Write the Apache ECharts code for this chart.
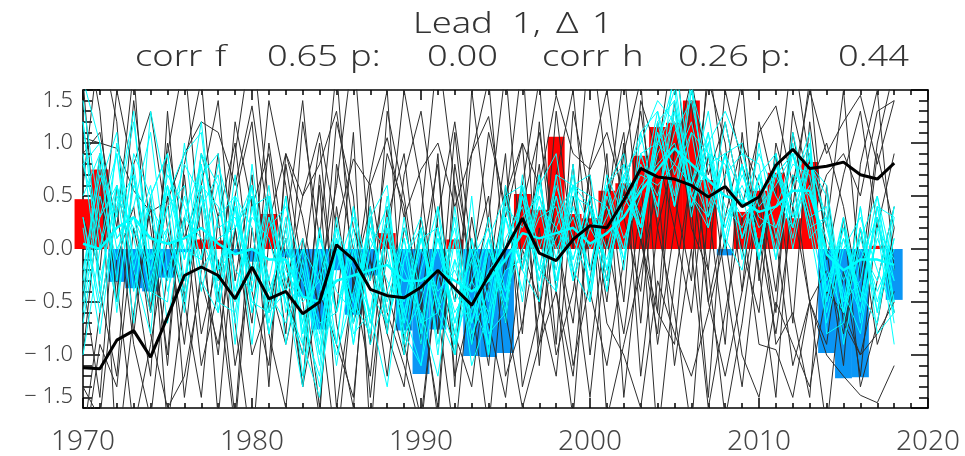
<!DOCTYPE html>
<html lang="en">
<head>
    <meta charset="UTF-8">
    <title>Lead 1</title>
    <script src="https://cdn.jsdelivr.net/npm/echarts@6/dist/echarts.min.js"></script>
    <style>
        html, body { margin: 0; padding: 0; background: #fff; }
        #main { width: 965px; height: 456px; }
    </style>
</head>
<body>
<div id="main"></div>
<script>
    // years 1970..2018
    var years = [1970, 1971, 1972, 1973, 1974, 1975, 1976, 1977, 1978, 1979,
        1980, 1981, 1982, 1983, 1984, 1985, 1986, 1987, 1988, 1989,
        1990, 1991, 1992, 1993, 1994, 1995, 1996, 1997, 1998, 1999,
        2000, 2001, 2002, 2003, 2004, 2005, 2006, 2007, 2008, 2009,
        2010, 2011, 2012, 2013, 2014, 2015, 2016, 2017, 2018];

    // red / blue bars
    var barValues = [0.47, 0.75, -0.31, -0.37, -0.40, -0.27, -0.03, 0.09, 0.08, -0.04,
        -0.12, 0.33, -0.08, -0.45, -0.76, -0.20, -0.62, -0.25, 0.15, -0.77,
        -1.18, -0.76, 0.09, -1.01, -1.02, -0.98, 0.52, 0.37, 1.06, 0.33,
        0.29, 0.55, 0.62, 0.88, 1.15, 1.19, 1.40, 0.65, -0.06, 0.35,
        0.55, 0.72, 0.29, 0.82, -0.98, -1.22, -1.21, 0.03, -0.48];

    // thick black line
    var obsLine = [-1.12, -1.13, -0.86, -0.77, -1.02, -0.64, -0.25, -0.17, -0.25, -0.47,
        -0.17, -0.47, -0.40, -0.61, -0.50, 0.04, -0.10, -0.38, -0.44, -0.46,
        -0.36, -0.20, -0.37, -0.53, -0.25, 0.0, 0.29, -0.04, -0.11, 0.09,
        0.22, 0.20, 0.46, 0.76, 0.68, 0.66, 0.60, 0.49, 0.59, 0.40,
        0.49, 0.79, 0.94, 0.76, 0.78, 0.82, 0.70, 0.66, 0.81];

    // thick cyan line
    var cyanMean = [0.05, 0.0, 0.2, 0.3, 0.1, 0.05, 0.1, 0.2, 0.05, -0.05,
        0.0, -0.1, -0.1, -0.45, -0.5, -0.3, -0.25, -0.2, -0.15, -0.3,
        -0.3, -0.2, -0.3, -0.4, -0.3, -0.1, 0.15, 0.1, 0.15, 0.2,
        0.05, 0.15, 0.3, 0.55, 0.75, 0.95, 0.8, 0.65, 0.5, 0.45,
        0.35, 0.4, 0.55, 0.55, -0.05, -0.2, -0.1, -0.1, -0.15];

    // thin black members
    var black1 = [1.05, 1.0, 0.95, 0.55, 0.35, 0.45, 0.9, 1.2, 1.1, 0.6,  1.35, 0.25, 0.9, 0.5, 1.1, 0.2, 0.85, 0.6, 1.05, 0.3,  0.75, 1.0, 0.4, 0.9, 1.25, 0.3, 1.0, 0.6, 1.45, 0.9,  0.75, 1.1, 0.5, 1.3, 0.2, 0.9, 1.6, 0.7, 1.2, 0.4,  1.1, 1.35, 0.6, 1.5, 0.9, 1.2, 1.45, 0.8, 1.4];
    var black2 = [-1.8, -0.6, 0.4, -0.9, -1.6, -0.2, 0.3, -1.1, -0.4, -1.7,  0.2, -0.8, -1.5, 0.1, -0.6, -1.9, -0.3, -1.2, 0.4, -0.9,  -1.6, -0.2, -1.0, 0.3, -0.7, -1.4, 0.0, -0.5, -1.2, 0.5,  -0.4, -1.1, -0.1, 0.6, -0.9, 0.2, -0.6, 0.9, -0.3, -1.3,  0.1, -0.8, 0.4, -0.5, -1.7, -0.2, -1.2, 0.3, -0.6];
    var black3 = [2.2, 1.3, -0.5, 1.4, 0.2, -1.0, 0.8, 1.6, -0.3, 0.9,  2.0, 0.4, -0.8, 1.2, 0.1, 1.7, -0.4, 0.7, 1.5, -0.9,  0.3, 1.9, 0.6, -0.2, 1.1, 0.4, 1.8, -0.6, 1.3, 0.0,  2.1, 0.7, -0.5, 1.4, 0.9, 2.0, 0.3, 1.6, 1.0, -0.4,  1.2, 0.5, 1.9, 0.8, 0.2, 1.5, -0.3, 1.0, 1.7];
    var black4 = [-0.3, -1.4, 0.6, -0.2, -1.2, 1.3, -0.5, 0.4, -1.6, 0.2,  -0.7, 1.0, -0.1, -1.3, 0.7, -0.6, 1.1, -1.8, 0.3, 0.9,  -0.5, -1.5, 0.8, -0.2, -1.1, 0.6, -0.8, 1.2, -0.4, -1.6,  0.5, -0.3, 1.0, -1.2, 0.2, -0.6, -1.7, 0.4, -0.9, 1.1,  -0.2, -1.4, 0.7, -0.5, -0.9, 0.3, -1.3, -0.7, 0.2];
    var black5 = [0.6, 2.0, 1.2, -0.8, 0.5, -1.7, -0.4, 0.9, 0.3, -1.1,  -0.2, 1.4, 0.6, -0.5, -1.6, 0.8, 0.0, -0.9, 1.3, 0.5,  -0.6, 0.9, -1.3, 1.5, 0.2, -0.7, 0.6, 1.6, -0.4, 0.8,  -1.0, 0.3, 1.7, 0.1, -0.8, 1.0, 0.4, -1.4, 0.7, 1.6,  -0.3, 0.9, -0.7, 1.2, 0.0, -1.1, 0.8, 1.5, -0.2];
    var black6 = [-2.0, -0.9, -1.3, 0.2, -0.6, 0.5, -1.4, -0.2, 0.9, -0.7,  -1.9, 0.1, -0.4, -1.0, 0.6, -1.5, -0.3, 0.4, -0.8, -1.3,  0.3, -0.6, -1.8, -0.1, 0.5, -1.2, -0.7, 0.2, -1.0, -0.4,  0.7, -1.6, -0.9, -0.2, 0.6, -1.1, 0.0, -1.5, -0.6, 0.3,  -0.9, -0.95, -1.4, -0.5, -1.0, -1.2, -1.38, -1.45, -1.1];
    var black7 = [0.3, -0.2, 1.5, 0.7, -0.4, 0.9, 1.8, 0.0, -1.0, 0.5,  1.2, -0.6, 0.2, 1.4, -0.3, 0.6, 1.9, -0.1, -0.8, 0.7,  1.3, 0.2, -0.5, 0.9, 1.6, -0.2, 0.4, 1.1, 0.1, -0.7,  0.8, 1.5, 0.3, -0.4, 1.2, 0.5, -0.3, 1.8, 0.6, 0.0,  -0.6, 1.0, 0.4, 1.6, -0.1, 0.7, 1.3, 0.2, 0.9];
    var black8 = [-1.0, 0.5, -0.3, -1.7, -0.9, 0.1, -0.5, -1.4, 0.3, 1.0,  -0.4, -1.1, 0.8, -0.2, -1.5, 0.4, -0.7, -0.1, -1.2, 0.2,  -0.4, -1.6, 0.6, -0.9, -0.3, 0.9, -1.3, -0.6, 0.5, -0.2,  -1.4, 0.1, -0.8, 0.4, -1.8, -0.3, 0.7, -0.5, -1.2, -0.4,  0.5, -0.9, -0.6, -1.4, 0.6, -0.7, -1.0, -0.3, 0.4];
    var black9 = [1.6, -0.4, -1.2, 0.8, 1.3, 0.2, -0.9, 0.6, 1.4, -0.3,  0.7, -1.3, 0.9, 0.3, -0.6, 1.2, 0.5, -1.4, 0.0, 1.5,  0.6, -0.8, 1.1, -0.4, 0.3, 1.7, -0.2, 0.8, -0.9, 1.3,  0.5, -0.5, 0.9, 1.6, -0.6, 1.4, 0.2, -0.2, 1.5, 0.8,  0.3, -0.6, 1.3, 0.6, 1.0, 0.4, -0.5, 0.9, 0.2];
    var black10 = [-0.5, 0.9, -2.0, -0.6, 0.4, -1.1, 0.7, -0.8, -0.1, -1.6,  0.5, -0.3, -0.9, -0.2, 1.0, -0.7, -1.5, 0.6, -0.4, -1.0,  -0.1, 0.8, -1.2, -0.5, -1.7, 0.0, 0.6, -0.9, 0.2, -1.1,  -0.3, 0.9, -1.4, 0.1, -0.6, -0.9, 0.8, -0.2, -1.6, -0.7,  0.5, 0.1, -1.1, -0.5, -0.2, -0.8, 0.2, -0.9, -0.4];
    var black11 = [0.9, 1.1, 0.2, 1.7, -0.6, 1.0, 0.1, 0.6, -0.5, 1.2,  0.4, 0.9, -0.4, 0.5, 0.8, 1.3, 0.2, -0.3, 0.9, 0.4,  -0.9, 0.3, 1.2, 0.0, -0.4, 0.5, 1.0, -1.1, 0.7, 1.5,  -0.2, 0.4, 1.1, -0.7, 0.9, 0.2, 1.4, -0.5, 0.3, 1.0,  0.6, -0.4, 1.1, 0.2, 0.7, 0.9, 0.5, 1.3, 1.4];
    var black12 = [-1.3, -1.6, -0.1, 0.4, -0.8, -1.5, -1.2, -0.3, -0.9, 0.2,  -1.0, -0.5, 0.1, -1.3, -0.4, -0.9, -1.4, 0.3, -0.6, -1.1,  -1.7, -0.2, -0.8, -1.3, 0.0, -0.6, -1.5, -0.9, -0.4, -1.2,  0.4, -0.7, -1.0, -1.5, -0.3, -0.8, -1.2, -0.6, 0.1, -1.0,  -1.4, -0.5, -0.9, -1.3, -0.4, -0.6, -1.0, -0.8, -0.5];

    // thin cyan members
    var cyan1 = [1.4, 0.3, 0.6, -0.2, 0.5, 0.9, -0.3, 0.4, 0.7, -0.4,  0.3, 0.1, -0.5, -0.9, 0.0, -0.6, 0.2, -0.7, -0.1, -0.5,  0.2, -0.6, -0.1, -0.9, 0.0, -0.4, 0.5, -0.2, 0.6, 0.1,  -0.3, 0.5, 0.0, 0.9, 0.4, 1.4, 0.6, 1.1, 0.2, 0.8,  0.0, 0.7, 0.9, 0.3, 0.4, -0.6, 0.2, -0.5, 0.1];
    var cyan2 = [-0.6, 0.5, -0.1, 0.8, -0.3, 0.4, 0.6, -0.4, 0.3, 0.5,  -0.6, 0.2, 0.4, -0.2, -1.0, 0.1, -0.7, 0.3, -0.6, 0.1,  -0.8, 0.2, -0.7, 0.0, -1.0, 0.3, -0.2, 0.7, -0.3, 0.5,  0.4, -0.2, 0.8, 0.2, 1.2, 0.5, 1.6, 0.3, 0.9, 0.1,  0.7, 0.2, 0.6, 1.0, -0.5, 0.2, -0.6, 0.4, -0.3];
    var cyan3 = [0.3, -0.5, 1.0, 0.1, 0.6, -0.4, 0.2, 1.2, -0.2, 0.0,  0.6, -0.5, 0.3, -0.8, -0.2, -0.9, 0.4, -0.3, 0.3, -1.0,  -0.2, 0.4, -0.5, -0.1, 0.2, -0.7, 0.6, 0.0, 0.5, -0.2,  0.4, 0.0, 0.6, 1.1, 0.3, 1.8, 0.7, 0.3, 1.2, 0.4,  0.9, 0.5, 0.2, 0.8, 0.3, -0.9, -0.1, 0.3, -0.7];
    var cyan4 = [-0.2, 0.7, 0.3, 1.2, -0.1, 0.2, 0.8, 0.5, -0.6, 0.4,  -0.3, 0.6, -0.6, 0.0, -0.8, 0.1, -0.9, 0.0, 0.4, -0.6,  -1.1, -0.3, 0.2, -0.8, -0.4, 0.4, 0.2, 0.6, -0.1, 0.7,  -0.4, 0.6, 0.1, 0.5, 1.3, 0.7, 1.1, 0.9, 0.4, 0.2,  0.6, 0.0, 1.1, 0.4, -0.3, 0.1, -0.4, -0.7, 0.3];
    var cyan5 = [0.8, 0.2, -0.5, 0.6, 0.3, -0.3, 0.5, -0.1, 0.6, -0.7,  0.4, -0.4, 0.1, -1.2, -0.4, 0.0, -0.5, -0.8, 0.1, -0.2,  -0.6, -1.2, -0.1, -0.5, -0.9, 0.1, 0.4, -0.3, 0.3, 0.6,  0.2, -0.1, 0.5, 0.2, 0.9, 1.2, 0.4, 0.8, 0.9, 0.5,  -0.1, 0.8, 0.4, 0.9, 0.2, -0.4, -0.8, 0.2, -0.1];
    var cyan6 = [-1.0, 0.0, 0.9, -0.1, 0.4, 0.1, -0.4, 0.9, 0.2, 0.3,  -0.2, 0.5, -0.3, -0.6, -1.3, -0.2, 0.3, -0.4, -0.7, -0.1,  0.3, -0.5, -0.9, -0.3, 0.1, -0.5, 0.3, 0.5, 0.0, 0.3,  -0.2, 0.7, 0.3, 0.6, 0.8, 1.0, 0.5, 0.3, 0.7, 0.9,  0.4, 0.6, 0.9, 0.2, -0.7, 0.0, 0.3, -0.2, -0.6];
    var cyan7 = [0.5, 0.9, 0.1, 0.4, 1.1, -0.2, 0.3, 0.1, -0.3, 0.5,  0.2, -0.8, 0.0, -0.3, -0.7, -0.6, 0.1, -0.9, -0.4, 0.2,  -0.4, 0.0, -0.6, -0.3, -0.6, -0.2, -0.1, 0.3, 0.4, -0.3,  0.2, 0.4, -0.1, 0.8, 0.5, 1.1, 1.4, 0.6, 0.2, 0.7,  0.3, 0.2, 0.7, 0.5, 0.1, -0.3, 0.1, -0.4, 0.0];
    var cyan8 = [0.2, -0.8, 0.4, 0.7, -0.5, 0.6, -0.1, 0.6, 0.4, -0.2,  -0.4, 0.3, -0.2, -0.5, -0.3, -1.0, -0.4, 0.2, 0.0, -0.8,  -0.5, 0.1, -0.4, -0.7, -0.2, 0.0, 0.5, -0.2, 0.1, 0.4,  0.0, 0.3, 0.7, 0.3, 1.0, 0.8, 1.2, 0.5, 0.6, 0.3,  0.5, 0.7, 0.3, 0.6, 0.0, -0.2, -0.6, 0.1, -0.3];
    var cyan9 = [1.2, -0.3, 0.5, 0.2, -0.2, 0.7, 0.4, -0.2, 0.1, 0.2,  0.6, -0.3, 0.5, -0.7, 0.1, -0.4, -0.6, 0.1, -0.3, -0.6,  0.0, -0.4, -0.2, -0.6, 0.3, -0.4, 0.0, 0.4, 0.2, -0.1,  0.5, -0.2, 0.4, 0.7, 0.6, 0.8, 0.6, 1.3, 0.3, 0.6,  0.2, 0.4, 0.8, 0.7, -0.2, -0.6, 0.0, -0.3, 0.4];
    var cyan10 = [-0.4, 0.8, -0.3, 0.9, 0.5, -0.7, 0.3, 0.8, -0.5, -0.6,  0.4, 0.5, -0.9, -0.1, -0.9, 0.3, -0.8, -0.6, -1.3, -0.1,  0.2, -1.0, 0.4, -0.7, 0.1, 0.5, -0.5, 0.6, 0.9, -0.2,  -0.5, 0.6, 0.8, 0.1, 1.1, 0.4, 1.5, 0.9, 0.1, -0.2,  0.7, 0.9, 0.2, 0.8, 0.6, -0.5, 0.4, -0.8, -0.6];
    var cyan11 = [0.9, -0.4, 0.6, -0.7, 1.3, 0.5, 0.9, 1.1, -0.2, 0.4,  -0.5, -0.6, 0.5, -0.9, -1.4, 0.1, -0.5, 0.3, 0.6, -0.8,  -1.1, 0.2, -0.9, 0.5, -1.0, 0.6, -0.2, -0.5, 0.7, 0.6,  0.4, -0.4, 0.7, 1.0, 1.4, 1.2, 0.6, 1.0, 1.3, 0.9,  0.8, -0.1, 0.6, 1.1, -0.8, -0.7, 0.1, 0.5, -0.5];
    var cyan12 = [-0.5, 0.6, 1.1, -0.2, -0.8, 0.8, -0.1, 0.9, 0.6, -0.9,  0.8, -0.4, -0.7, -0.2, -1.1, 0.2, -0.9, 0.4, -0.8, 0.3,  -0.7, -0.6, -1.0, 0.1, -0.8, -0.6, 0.7, -0.2, -0.4, 0.6,  0.7, -0.2, 0.5, 0.2, 1.0, 1.6, 0.5, 0.2, 0.9, -0.1,  1.0, 0.1, 0.9, 0.3, -0.5, 0.3, -0.7, 0.2, -0.9];
    var cyan13 = [0.3, -0.6, 0.4, 1.3, -0.4, -0.5, 1.0, -0.3, -0.6, 0.4,  -0.9, 0.5, -0.4, -1.3, 0.2, -0.9, 0.4, -0.7, 0.2, -0.9,  0.2, -0.9, 0.1, -1.1, -0.6, 0.3, -0.4, 0.7, -0.4, 0.8,  -0.5, 0.6, -0.2, 1.1, 1.3, 0.4, 1.5, 0.4, 0.9, 1.0,  -0.1, 0.8, 0.3, 0.9, -0.6, 0.1, -0.5, 0.4, 0.3];
    var cyan14 = [0.8, 1.0, -0.6, 0.7, -0.2, 0.4, -0.6, 0.7, 0.9, -0.5,  0.6, -0.8, -0.1, -0.7, -1.2, 0.0, -0.6, 0.3, -0.7, 0.0,  -0.9, 0.4, -1.0, -0.1, -0.9, 0.4, -0.2, 0.4, -0.3, 0.4,  -0.2, 0.6, 0.9, 0.2, 1.2, 1.4, 0.3, 1.1, 0.0, 0.8,  0.0, 0.9, 0.0, 0.8, 0.5, -0.6, 0.4, -0.6, 0.1];
    var cyan15 = [-0.7, 0.3, 0.9, -0.4, 0.5, 0.9, -0.1, 0.6, -0.5, 0.7,  -0.6, 0.3, -0.5, -1.0, 0.0, -1.1, 0.0, -0.8, 0.3, -0.6,  0.1, -0.6, 0.3, -0.9, 0.1, -0.6, 0.6, -0.2, 0.7, -0.3,  0.4, -0.4, 0.7, 0.1, 1.0, 1.3, 0.4, 0.9, 0.1, 0.8,  -0.1, 0.8, 0.2, 1.0, -0.4, 0.2, -0.5, 0.4, -0.6];
    var cyan16 = [1.2, 0.0, 0.6, 0.1, -0.6, 0.2, -0.3, 0.8, -0.4, 0.2,  0.5, -0.7, 0.2, -0.8, 0.2, -0.6, 0.0, -0.6, 0.2, -0.7,  0.1, -0.5, 0.1, -0.7, 0.0, -0.5, 0.5, -0.3, 0.5, -0.1,  0.5, -0.3, 0.6, 0.2, 1.1, 0.4, 1.1, 0.2, 0.9, 0.1,  0.7, -0.1, 1.0, 0.1, 0.3, -0.6, 0.2, -0.6, 0.4];
    var cyan17 = [-0.3, 0.9, 0.0, 0.3, -0.1, 0.6, -0.5, 0.5, -0.2, 0.5,  -0.4, 0.5, -0.3, 0.1, -1.0, 0.0, -0.7, 0.2, -0.5, 0.1,  -0.7, 0.1, -0.7, 0.0, -0.7, 0.3, -0.2, 0.5, -0.2, 0.6,  -0.4, 0.6, -0.1, 0.9, 0.4, 1.3, 0.4, 1.0, 0.0, 0.8,  0.0, 0.8, 0.1, 0.9, -0.4, 0.3, -0.5, 0.3, -0.5];
    var cyan18 = [1.6, 1.0, 0.1, 0.3, -0.4, 0.6, 0.0, -0.1, 0.8, 0.2,  0.5, -0.6, -0.4, 0.0, -0.3, 0.2, -0.2, -0.6, 0.5, -0.7,  0.1, 0.2, -0.8, 0.1, -0.5, 0.5, 0.6, -0.4, 0.2, 0.6,  0.5, 0.4, 0.0, 0.9, 1.0, 1.5, 0.5, 0.9, 0.8, 0.1,  0.5, 0.7, 0.9, 0.2, 0.3, -0.5, -0.3, 0.5, -0.2];

    var blackMembers = [black1, black2, black3, black4, black5, black6, black7, black8, black9, black10, black11, black12];
    var cyanMembers = [cyan1, cyan2, cyan3, cyan4, cyan5, cyan6, cyan7, cyan8, cyan9, cyan10,
        cyan11, cyan12, cyan13, cyan14, cyan15, cyan16, cyan17, cyan18];

    // title words and the x where each starts
    var titleWords = ['Lead', '1,', '\u0394', '1'];
    var titleX = [413, 512, 556, 592];
    var statWords = ['corr', 'f', '0.65', 'p:', '0.00', 'corr', 'h', '0.26', 'p:', '0.44'];
    var statX = [135, 215, 267, 350, 427, 542, 622, 678, 760, 838];

    var font = '"Noto Sans", "DejaVu Sans", sans-serif';

    function pairs(vals) {
        return years.map(function (y, i) { return [y, vals[i]]; });
    }

    function lineSeries(vals, color, width) {
        return {
            type: 'line',
            data: pairs(vals),
            symbol: 'none',
            clip: true,
            silent: true,
            lineStyle: { color: color, width: width }
        };
    }

    var series = [];
    series.push({
        type: 'custom',
        data: pairs(barValues),
        clip: false,
        silent: true,
        renderItem: function (params, api) {
            var x = api.value(0), v = api.value(1);
            var a = api.coord([x - 0.5, v]);
            var b = api.coord([x + 0.5, 0]);
            return {
                type: 'rect',
                shape: { x: a[0], y: Math.min(a[1], b[1]), width: b[0] - a[0], height: Math.abs(b[1] - a[1]) },
                style: { fill: v >= 0 ? '#ff0000' : '#0a96f5' }
            };
        }
    });
    blackMembers.forEach(function (m) { series.push(lineSeries(m, '#2e2e2e', 1)); });
    cyanMembers.forEach(function (m) { series.push(lineSeries(m, '#00ffff', 1)); });
    series.push(lineSeries(cyanMean, '#00ffff', 2.5));
    series.push(lineSeries(obsLine, '#000000', 3));

    function words(list, xs, y) {
        return list.map(function (w, i) {
            return {
                type: 'text', x: xs[i], y: y, scaleX: 1.25, silent: true,
                style: {
                    text: w, x: 0, y: 0, fontSize: 29, fontWeight: 300, fontFamily: font,
                    fill: '#333', verticalAlign: 'middle', textVerticalAlign: 'middle'
                }
            };
        });
    }

    function xAx(pos, labels) {
        return {
            type: 'value', position: pos, min: 1970, max: 2020, interval: 10,
            axisLine: { show: true, onZero: false, lineStyle: { color: '#000', width: 1.5 } },
            axisTick: { show: true, inside: true, length: 10, lineStyle: { color: '#000', width: 1.5 } },
            minorTick: { show: true, splitNumber: 10, length: 5, lineStyle: { color: '#000', width: 1.5 } },
            splitLine: { show: false },
            axisLabel: {
                show: labels, fontSize: 28, color: '#444', margin: 20, fontFamily: font, fontWeight: 300,
                formatter: function (v) { return String(v); }
            }
        };
    }
    function yAx(pos, labels) {
        return {
            type: 'value', position: pos, min: -1.5, max: 1.5, interval: 0.5,
            axisLine: { show: true, onZero: false, lineStyle: { color: '#000', width: 1.5 } },
            axisTick: { show: true, inside: true, length: 17, lineStyle: { color: '#000', width: 1.5 } },
            minorTick: { show: true, splitNumber: 5, length: 9, lineStyle: { color: '#000', width: 1.5 } },
            splitLine: { show: false },
            axisLabel: {
                show: labels, fontSize: 22, color: '#444', margin: 10, fontFamily: font, fontWeight: 300,
                verticalAlignMaxLabel: 'top', verticalAlignMinLabel: 'bottom',
                formatter: function (v) { return (v < 0 ? '\u2212 ' : '') + Math.abs(v).toFixed(1); }
            }
        };
    }

    var myChart = echarts.init(document.getElementById('main'), null, { renderer: 'canvas' });
    myChart.setOption({
        animation: false,
        backgroundColor: '#fff',
        graphic: words(titleWords, titleX, 25).concat(words(statWords, statX, 58)),
        grid: { left: 83, right: 37, top: 90, bottom: 45, containLabel: false },
        xAxis: [xAx('bottom', true), xAx('top', false)],
        yAxis: [yAx('left', true), yAx('right', false)],
        series: series
    });
</script>
</body>
</html>
